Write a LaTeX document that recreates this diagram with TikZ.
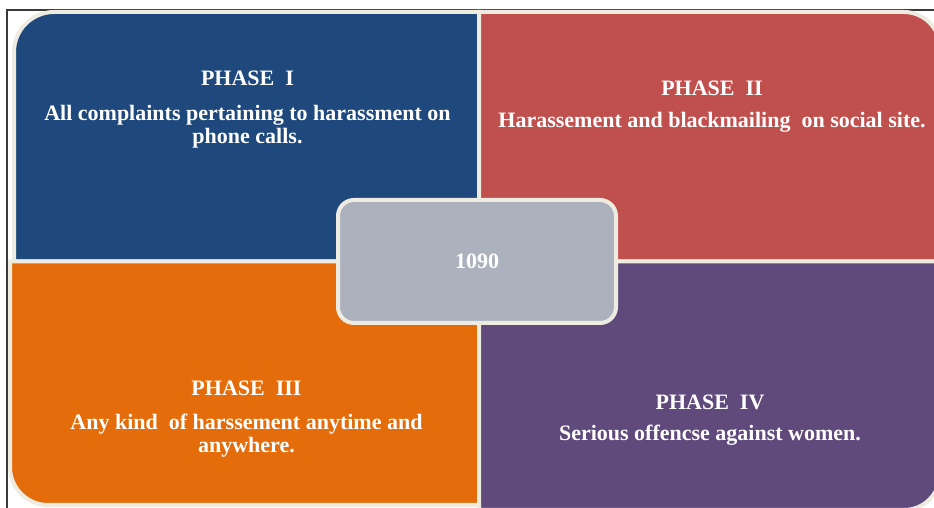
\documentclass[tikz,border=0pt]{standalone}
\usepackage{fontspec}
\setmainfont{Liberation Serif}
\usepackage{xcolor}
\usepackage{tikz}
\usetikzlibrary{positioning}

\definecolor{phaseblue}{HTML}{1F497D}
\definecolor{phasered}{HTML}{C0504D}
\definecolor{phaseorange}{HTML}{E46C0A}
\definecolor{phasepurple}{HTML}{604A7B}
\definecolor{hubgray}{HTML}{ACB1BE}
\definecolor{cream}{HTML}{EEECE1}
\definecolor{framegray}{HTML}{3A3A3A}

\begin{document}
\begin{tikzpicture}[
    x=1pt, y=1pt,
    % Quadrant panels
    quad/.style={draw=cream, line width=4pt},
    % Centre box
    hub/.style={rectangle, rounded corners=16pt, draw=cream, line width=4pt, fill=hubgray,
        minimum width=278pt, minimum height=123pt, text=white,
        font=\fontsize{22}{23}\selectfont\bfseries},
    % Texts
    title/.style={inner sep=0pt, anchor=base, text=white, font=\fontsize{22}{23}\selectfont\bfseries},
    body/.style={inner sep=0pt, align=center, text=white, font=\fontsize{22}{23}\selectfont\bfseries}
]
    \useasboundingbox (0,0) rectangle (934,508);

    % Frame
    \draw[framegray, line width=1.5pt] (7,0) -- (7,498) -- (934,498);

    % Quadrants
    \draw[quad, fill=phaseblue] (14,246.5) -- (14,456) arc[start angle=180, end angle=90, radius=40]
        -- (479,496) -- (479,246.5) -- cycle;
    \draw[quad, fill=phasered] (479,496) -- (904,496) arc[start angle=90, end angle=0, radius=36]
        -- (940,246.5) -- (479,246.5) -- cycle;
    \draw[quad, fill=phaseorange] (479,246.5) -- (10,246.5) -- (10,41) arc[start angle=180, end angle=270, radius=38]
        -- (479,3) -- cycle;
    \draw[quad, fill=phasepurple] (479,246.5) -- (940,246.5) -- (940,34) arc[start angle=0, end angle=-90, radius=36]
        -- (479,-2) -- cycle;

    % Phase I
    \node[title] (titleI) at (247.5,422.3) {PHASE\ \ I};
    \node[body, below=19pt of titleI] (bodyI) {All complaints pertaining to harassment on\\phone calls.};

    % Phase II
    \node[title] (titleII) at (712,412.3) {PHASE\ \ II};
    \node[body, below=16pt of titleII] (bodyII) {Harassement and blackmailing\ \ on social site.};

    % Phase III
    \node[title] (titleIII) at (246.5,112) {PHASE\ \ III};
    \node[body, below=17pt of titleIII] (bodyIII) {Any kind\ \ of harssement anytime and\\anywhere.};

    % Phase IV
    \node[title] (titleIV) at (710,98.7) {PHASE\ \ IV};
    \node[body, below=15pt of titleIV] (bodyIV) {Serious offencse against women.};

    % Centre
    \node[hub] (hub) at (477,246.5) {1090};
\end{tikzpicture}
\end{document}
